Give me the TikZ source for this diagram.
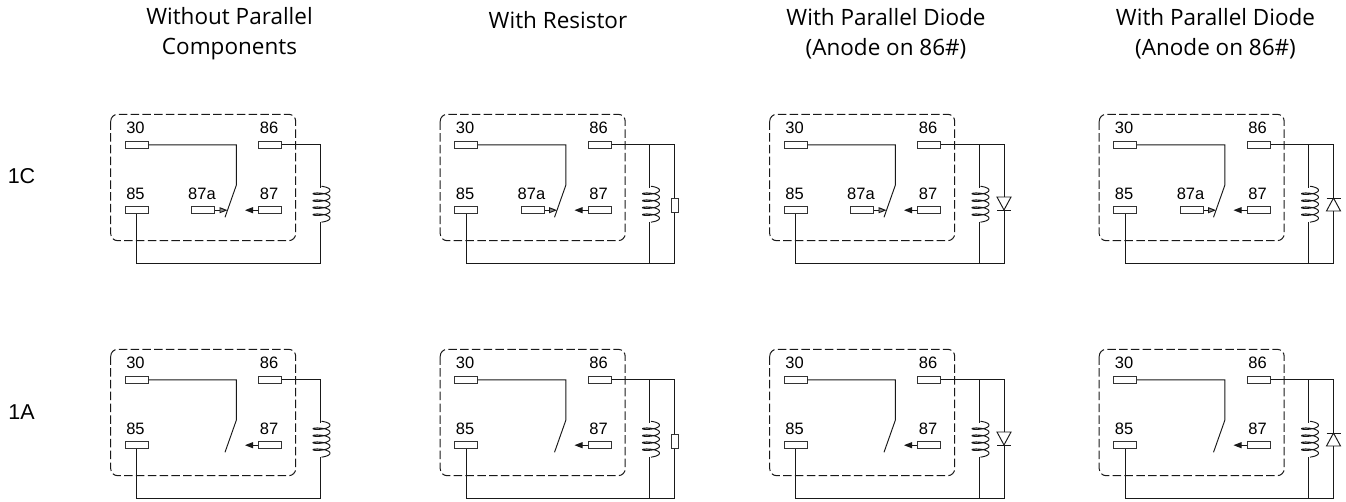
\documentclass[tikz,border=0pt]{standalone}
\usepackage{fontspec}
\usepackage{xcolor}
\setmainfont{Open Sans}
\newfontfamily\labelfont{Liberation Sans}
\usetikzlibrary{arrows.meta}

\tikzset{
	wire/.style={line width=0.95pt,black!90},
	terminal/.style={draw=black!80,line width=1pt,rectangle,inner sep=0pt,minimum width=23pt,minimum height=6.5pt},
	pinlabel/.style={font=\labelfont\fontsize{16.5}{18}\selectfont,inner sep=0pt},
	rowlabel/.style={font=\labelfont\fontsize{21.5}{24}\selectfont,inner sep=0pt},
	title/.style={font=\fontsize{22.5}{30}\selectfont,align=center,inner sep=0pt},
	outline/.style={line width=1pt,black!90,rounded corners=7pt,dash pattern=on 8.5pt off 3.3pt},
	fixedcontact/.style={wire,-{Triangle[length=8pt,width=6pt]}},
	opencontact/.style={wire,-{Triangle[length=8pt,width=6pt,fill=black!45]}},
}

\begin{document}
\begin{tikzpicture}[x=1pt,y=-1pt]
	\useasboundingbox (0,0) rectangle (1346,502);

	\node[title] (titlea) at (229.5,34) {Without Parallel\\Components};
	\node[title] (titleb) at (558,20) {With Resistor};
	\node[title] (titlec) at (886,34) {With Parallel Diode\\(Anode on 86\#)};
	\node[title] (titled) at (1215.5,34) {With Parallel Diode\\(Anode on 86\#)};
	\node[rowlabel] (rowc) at (21.5,176) {1C};
	\node[rowlabel] (rowa) at (21.5,412) {1A};

	% relay, coil and the wires that every panel has
	\foreach \dx/\pn in {0/a,329.5/b,659/c,988.5/d}{
		\foreach \dy/\rw in {0/u,235/l}{
			\begin{scope}[shift={(\dx,\dy)}]
				\draw[outline] (110.7,114.3) rectangle (295.7,240.7);

				\node[terminal] (\pn\rw-t30) at (136.5,144.8) {};
				\node[terminal] (\pn\rw-t86) at (270,144.8) {};
				\node[terminal] (\pn\rw-t85) at (136.5,210.2) {};
				\node[terminal] (\pn\rw-t87) at (270,210.2) {};
				\node[pinlabel] (\pn\rw-l30) at (135.5,127.5) {30};
				\node[pinlabel] (\pn\rw-l86) at (269,127.5) {86};
				\node[pinlabel] (\pn\rw-l85) at (135.5,193.5) {85};
				\node[pinlabel] (\pn\rw-l87) at (269,193.5) {87};

				\coordinate (\pn\rw-arm) at (236.4,185);
				\coordinate (\pn\rw-armend) at (225,217.3);
				\coordinate (\pn\rw-tip87) at (245,210.2);
				\coordinate (\pn\rw-tr) at (320.3,144.8);
				\coordinate (\pn\rw-br) at (320.3,263.7);
				\coordinate (\pn\rw-ctop) at (320.3,188);
				\coordinate (\pn\rw-cbot) at (320.3,222);

				\draw[wire] (\pn\rw-t30.east) -| (\pn\rw-arm) -- (\pn\rw-armend);
				\draw[fixedcontact] (\pn\rw-t87.west) -- (\pn\rw-tip87);
				\draw[wire] (\pn\rw-t86.east) -- (\pn\rw-tr) -- (\pn\rw-ctop);
				\draw[wire,domain=-90:1530,samples=160,smooth,variable=\t] plot ({321.5+8.5*cos(\t)},{190.2+7*\t/360+2.2*sin(\t)});
				\draw[wire] (\pn\rw-cbot) -- (\pn\rw-br) -| (\pn\rw-t85.south);
			\end{scope}
		}
		% 87a only on the 1C row
		\begin{scope}[shift={(\dx,0)}]
			\node[terminal] (\pn u-t87a) at (203.3,210.2) {};
			\node[pinlabel] (\pn u-l87a) at (202,193.5) {87a};
			\coordinate (\pn u-tip87a) at (227.5,210.2);
			\draw[opencontact] (\pn u-t87a.east) -- (\pn u-tip87a);
		\end{scope}
	}

	% resistor branch
	\foreach \dy/\rw in {0/u,235/l}{
		\begin{scope}[shift={(329.5,\dy)}]
			\node[terminal,minimum width=7pt,minimum height=14pt] (bp\rw-res) at (345,206) {};
			\coordinate (bp\rw-trb) at (345,144.8);
			\coordinate (bp\rw-brb) at (345,263.7);
			\draw[wire] (b\rw-tr) -- (bp\rw-trb) -- (bp\rw-res.north);
			\draw[wire] (bp\rw-res.south) -- (bp\rw-brb) -- (b\rw-br);
		\end{scope}
	}

	% diode branch, base and apex swap between the two panels
	\foreach \dx/\pn/\ba/\ap/\dt/\db in {659/c/197/210/197/210,988.5/d/211/198/198/211}{
		\foreach \dy/\rw in {0/u,235/l}{
			\begin{scope}[shift={(\dx,\dy)}]
				\coordinate (\pn\rw-trb) at (345,144.8);
				\coordinate (\pn\rw-brb) at (345,263.7);
				\coordinate (\pn\rw-dtop) at (345,\dt);
				\coordinate (\pn\rw-dbot) at (345,\db);
				\draw[wire] (\pn\rw-tr) -- (\pn\rw-trb) -- (\pn\rw-dtop);
				\draw[wire] (\pn\rw-dbot) -- (\pn\rw-brb) -- (\pn\rw-br);
				\draw[wire,line join=miter] (338,\ba) -- (352,\ba) -- (345,\ap) -- cycle;
				\draw[wire] (338,\ap) -- (352,\ap);
			\end{scope}
		}
	}
\end{tikzpicture}
\end{document}
